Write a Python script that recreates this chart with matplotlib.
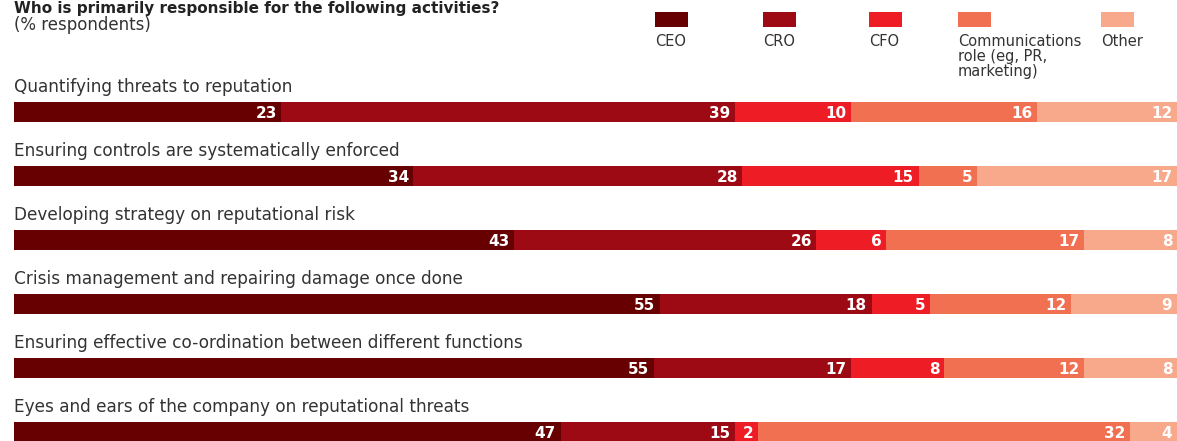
import matplotlib.pyplot as plt
import numpy as np

# data
activities = [
    "Quantifying threats to reputation",
    "Ensuring controls are systematically enforced",
    "Developing strategy on reputational risk",
    "Crisis management and repairing damage once done",
    "Ensuring effective co-ordination between different functions",
    "Eyes and ears of the company on reputational threats",
]
roles = ["CEO", "CRO", "CFO", "Communications\nrole (eg, PR,\nmarketing)", "Other"]
ceo = [23, 34, 43, 55, 55, 47]
cro = [39, 28, 26, 18, 17, 15]
cfo = [10, 15, 6, 5, 8, 2]
comms = [16, 5, 17, 12, 12, 32]
other = [12, 17, 8, 9, 8, 4]
colors = ["#670000", "#9e0a13", "#ee1d25", "#f27052", "#f8a98c"]

W, H = 1177, 441
fig = plt.figure(figsize=(W / 100, H / 100), dpi=100)
ax = fig.add_axes([14 / W, 0, 1 - 14 / W, 1])

series = np.array([ceo, cro, cfo, comms, other], dtype=float)
totals = series.sum(axis=0)
shares = series / totals * 100  # bars fill the full width like the original
y = np.arange(len(activities))
left = np.zeros(len(activities))
for vals, shr, c in zip(series, shares, colors):
    ax.barh(y, shr, left=left, height=0.3, color=c, linewidth=0)
    for yi, l, v, s in zip(y, left, vals, shr):
        ax.text(l + s - 0.4, yi + 0.02, str(int(v)), ha='right', va='center',
                color='white', fontsize=11, fontweight='bold')
    left = left + shr

for yi, name in zip(y, activities):
    ax.text(0, yi - 0.39, name, ha='left', va='center', fontsize=12.2, color='#333333')

ax.set_xlim(0, 100)
ax.set_ylim(5.14, -1.75)
ax.axis('off')

# title
fig.text(14 / W, 1 - 1 / H, "Who is primarily responsible for the following activities?",
         ha='left', va='top', fontsize=11, fontweight='bold', color='#222222')
fig.text(14 / W, 1 - 25 / H, "(% respondents)", ha='left', va='center',
         fontsize=12, color='#333333')

# legend
leg_x = [655, 763, 869, 958, 1101]
for lx, c, r in zip(leg_x, colors, roles):
    fig.patches.append(plt.Rectangle((lx / W, 1 - 27 / H), 33 / W, 15 / H,
                                     transform=fig.transFigure, color=c, linewidth=0))
    fig.text(lx / W, 1 - 34 / H, r, ha='left', va='top', fontsize=10.5,
             color='#333333', linespacing=1.0)

plt.savefig('out.png', dpi=100)
